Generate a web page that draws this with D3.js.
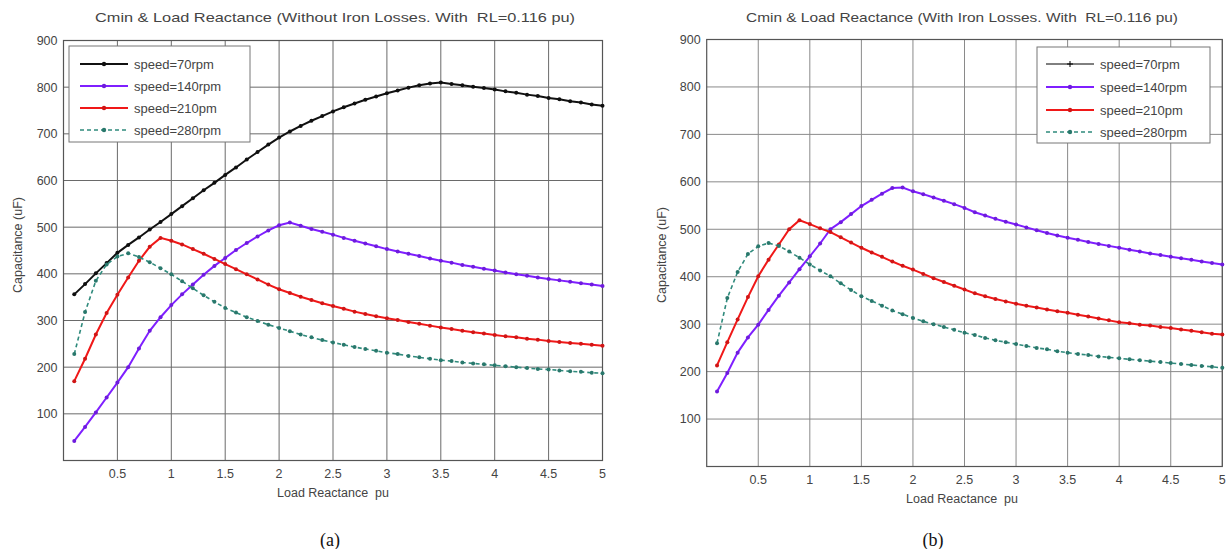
<!DOCTYPE html>
<html>
<head>
<meta charset="utf-8">
<script src="https://cdn.jsdelivr.net/npm/d3@7"></script>
<style>
  body { margin: 0; background: #fff; }
  svg { display: block; font-family: "Liberation Sans", Arial, sans-serif; }
  text { white-space: pre; }
</style>
</head>
<body>
<svg id="chart" width="1231" height="549"></svg>
<script>
// Cmin vs load reactance, two panels (without / with iron losses)

const loadReactance = [0.1, 0.2, 0.3, 0.4, 0.5, 0.6, 0.7, 0.8, 0.9, 1.0,
    1.1, 1.2, 1.3, 1.4, 1.5, 1.6, 1.7, 1.8, 1.9, 2.0,
    2.1, 2.2, 2.3, 2.4, 2.5, 2.6, 2.7, 2.8, 2.9, 3.0,
    3.1, 3.2, 3.3, 3.4, 3.5, 3.6, 3.7, 3.8, 3.9, 4.0,
    4.1, 4.2, 4.3, 4.4, 4.5, 4.6, 4.7, 4.8, 4.9, 5.0];

const xTicks = [0.5, 1, 1.5, 2, 2.5, 3, 3.5, 4, 4.5, 5];
const xTickLabels = ['0.5', '1', '1.5', '2', '2.5', '3', '3.5', '4', '4.5', '5'];
const yTicks = [100, 200, 300, 400, 500, 600, 700, 800, 900];

const speedLabels = ['speed=70rpm', 'speed=140rpm', 'speed=210pm', 'speed=280rpm'];

// (a) without iron losses
const noIron70 = [356, 378, 401, 423, 445, 462, 478, 495, 511, 528,
    545, 562, 579, 595, 612, 628, 645, 661, 677, 692,
    705, 717, 728, 738, 748, 757, 765, 773, 780, 787,
    793, 799, 804, 808, 810, 807, 804, 801, 798, 795,
    791, 788, 784, 781, 777, 774, 770, 767, 763, 760];
const noIron140 = [42, 72, 103, 135, 167, 200, 240, 278, 307, 333,
    356, 377, 398, 417, 434, 451, 466, 480, 493, 504,
    510, 503, 496, 490, 484, 477, 471, 465, 459, 453,
    448, 443, 438, 433, 428, 424, 419, 415, 411, 407,
    403, 399, 396, 392, 389, 386, 383, 380, 377, 374];
const noIron210 = [170, 218, 270, 316, 355, 392, 428, 458, 477, 471,
    463, 453, 443, 432, 421, 410, 399, 388, 377, 367,
    359, 351, 344, 337, 331, 325, 319, 314, 309, 305,
    301, 297, 293, 289, 285, 282, 278, 275, 272, 269,
    266, 264, 261, 259, 256, 254, 252, 250, 248, 246];
const noIron280 = [228, 318, 385, 420, 437, 444, 436, 425, 412, 399,
    384, 369, 354, 340, 327, 317, 307, 299, 291, 284,
    277, 270, 264, 258, 253, 248, 243, 239, 235, 231,
    228, 224, 221, 218, 215, 213, 210, 208, 206, 204,
    202, 200, 198, 196, 195, 193, 191, 190, 188, 187];

// (b) with iron losses - the 70rpm curve is off the plotted range
const withIron70 = [];
const withIron140 = [158, 197, 240, 272, 299, 330, 360, 388, 416, 443,
    470, 500, 515, 532, 549, 562, 575, 587, 588, 580,
    574, 567, 560, 553, 545, 536, 529, 522, 516, 510,
    504, 498, 492, 487, 482, 478, 473, 469, 465, 461,
    457, 453, 449, 446, 442, 439, 436, 432, 429, 426];
const withIron210 = [213, 262, 310, 357, 401, 436, 468, 500, 519, 511,
    502, 494, 483, 472, 461, 451, 442, 432, 423, 415,
    406, 397, 389, 381, 373, 365, 359, 353, 348, 343,
    339, 335, 331, 327, 324, 320, 316, 312, 308, 304,
    302, 299, 297, 294, 292, 289, 286, 283, 280, 278];
const withIron280 = [260, 355, 410, 448, 464, 471, 465, 453, 440, 426,
    413, 401, 386, 372, 359, 349, 339, 329, 321, 313,
    306, 300, 294, 288, 282, 277, 271, 266, 262, 258,
    254, 250, 247, 243, 240, 237, 235, 232, 230, 228,
    226, 224, 222, 220, 218, 216, 214, 212, 210, 208];

const seriesStyles = [
    { color: '#111', width: 2, dash: null, marker: 'dot' },
    { color: '#7f1fff', width: 2, dash: null, marker: 'dot' },
    { color: '#f01818', width: 2, dash: null, marker: 'dot' },
    { color: '#2f8a7c', width: 1.6, dash: '4,3', marker: 'dot' }
];

class CapacitancePanel {
    constructor(svg, cfg) {
        this.svg = svg;
        this.cfg = cfg;
        this.x = d3.scaleLinear().domain([0, 5]).range(cfg.xRange);
        this.y = d3.scaleLinear().domain([0, 900]).range(cfg.yRange);
        this.g = svg.append('g');
        this.draw();
    }

    draw() {
        const { x, y, g, cfg } = this;
        const [x0, x1] = cfg.xRange;
        const [y0, y1] = cfg.yRange;

        g.append('rect')
            .attr('x', x0).attr('y', y1)
            .attr('width', x1 - x0).attr('height', y0 - y1)
            .attr('fill', '#fff');

        g.append('g').selectAll('line.vg')
            .data(xTicks)
            .join('line')
            .attr('x1', d => x(d)).attr('x2', d => x(d))
            .attr('y1', y0).attr('y2', y1)
            .attr('stroke', cfg.gridColor).attr('stroke-width', 1);

        g.append('g').selectAll('line.hg')
            .data(yTicks)
            .join('line')
            .attr('x1', x0).attr('x2', x1)
            .attr('y1', d => y(d)).attr('y2', d => y(d))
            .attr('stroke', cfg.gridColor).attr('stroke-width', 1);

        g.append('rect')
            .attr('x', x0).attr('y', y1)
            .attr('width', x1 - x0).attr('height', y0 - y1)
            .attr('fill', 'none')
            .attr('stroke', '#555').attr('stroke-width', 1.2);

        // tick labels
        g.append('g').selectAll('text')
            .data(yTicks)
            .join('text')
            .attr('x', x0 - 6).attr('y', d => y(d))
            .attr('dy', '0.35em')
            .attr('text-anchor', 'end')
            .attr('font-size', 12.5).attr('fill', '#444')
            .text(d => d);

        g.append('g').selectAll('text')
            .data(xTicks)
            .join('text')
            .attr('x', d => x(d)).attr('y', y0 + 17)
            .attr('text-anchor', 'middle')
            .attr('font-size', 12.5).attr('fill', '#444')
            .text((d, i) => xTickLabels[i]);

        g.append('text')
            .attr('x', cfg.titleX).attr('y', cfg.titleY)
            .attr('text-anchor', 'middle')
            .attr('font-size', 13).attr('fill', '#444')
            .attr('textLength', cfg.titleLen).attr('lengthAdjust', 'spacingAndGlyphs')
            .text(cfg.title);

        g.append('text')
            .attr('x', cfg.xLabelX).attr('y', y0 + 36)
            .attr('text-anchor', 'middle')
            .attr('font-size', 12.5).attr('fill', '#444')
            .text('Load Reactance  pu');

        g.append('text')
            .attr('transform', `translate(${cfg.yLabelX},${cfg.yLabelY}) rotate(-90)`)
            .attr('text-anchor', 'middle')
            .attr('font-size', 12.5).attr('fill', '#444')
            .text('Capacitance (uF)');

        g.append('text')
            .attr('x', cfg.captionX).attr('y', 546)
            .attr('text-anchor', 'middle')
            .attr('font-family', '"Liberation Serif", "Times New Roman", serif')
            .attr('font-size', 18).attr('fill', '#111')
            .text(cfg.caption);

        this.drawSeries();
        this.drawLegend();
    }

    drawSeries() {
        const { x, y, g, cfg } = this;
        const line = d3.line()
            .x((d, i) => x(loadReactance[i]))
            .y(d => y(d));

        cfg.series.forEach((values, k) => {
            if (!values.length) return;
            const st = seriesStyles[k];
            const sg = g.append('g');
            sg.append('path')
                .attr('d', line(values))
                .attr('fill', 'none')
                .attr('stroke', st.color)
                .attr('stroke-width', st.width)
                .attr('stroke-dasharray', st.dash);
            sg.selectAll('circle')
                .data(values)
                .join('circle')
                .attr('cx', (d, i) => x(loadReactance[i]))
                .attr('cy', d => y(d))
                .attr('r', 2)
                .attr('fill', d3.color(st.color).darker(0.4));
        });
    }

    drawLegend() {
        const { g, cfg } = this;
        const lg = cfg.legend;
        const leg = g.append('g');

        leg.append('rect')
            .attr('x', lg.x).attr('y', lg.y)
            .attr('width', lg.w).attr('height', lg.h)
            .attr('fill', '#fff')
            .attr('stroke', '#777').attr('stroke-width', 1);

        speedLabels.forEach((label, k) => {
            const st = cfg.legendStyles[k];
            const ry = lg.rowY[k];
            const row = leg.append('g');
            row.append('line')
                .attr('x1', lg.lineX[0]).attr('x2', lg.lineX[1])
                .attr('y1', ry).attr('y2', ry)
                .attr('stroke', st.color)
                .attr('stroke-width', st.width)
                .attr('stroke-dasharray', st.dash);
            const mx = (lg.lineX[0] + lg.lineX[1]) / 2;
            if (st.marker === 'plus') {
                row.append('path')
                    .attr('d', `M${mx - 3},${ry}H${mx + 3}M${mx},${ry - 3}V${ry + 3}`)
                    .attr('stroke', st.color).attr('stroke-width', 1);
            } else {
                row.append('circle')
                    .attr('cx', mx).attr('cy', ry).attr('r', 2.2)
                    .attr('fill', d3.color(st.color).darker(0.4));
            }
            row.append('text')
                .attr('x', lg.textX).attr('y', ry)
                .attr('dy', '0.35em')
                .attr('font-size', 13).attr('fill', '#444')
                .text(label);
        });
    }
}

const svg = d3.select('#chart');

new CapacitancePanel(svg, {
    xRange: [63.5, 602.5],
    yRange: [460.5, 40.5],
    gridColor: '#6a6a6a',
    title: 'Cmin & Load Reactance (Without Iron Losses. With  RL=0.116 pu)',
    titleX: 335, titleY: 22, titleLen: 480,
    xLabelX: 333,
    yLabelX: 22, yLabelY: 245,
    caption: '(a)', captionX: 330,
    series: [noIron70, noIron140, noIron210, noIron280],
    legendStyles: seriesStyles,
    legend: { x: 69, y: 46, w: 181, h: 96, rowY: [64, 86, 108, 130], lineX: [80, 128], textX: 134 }
});

new CapacitancePanel(svg, {
    xRange: [706.7, 1222.3],
    yRange: [466.5, 39.5],
    gridColor: '#8a8a8a',
    title: 'Cmin & Load Reactance (With Iron Losses. With  RL=0.116 pu)',
    titleX: 962, titleY: 22, titleLen: 432,
    xLabelX: 962,
    yLabelX: 666, yLabelY: 255,
    caption: '(b)', captionX: 933,
    series: [withIron70, withIron140, withIron210, withIron280],
    legendStyles: [{ color: '#000', width: 1, dash: null, marker: 'plus' }].concat(seriesStyles.slice(1)),
    legend: { x: 1037, y: 47, w: 173, h: 96, rowY: [64, 87, 110, 132], lineX: [1046, 1094], textX: 1100 }
});
</script>
</body>
</html>
